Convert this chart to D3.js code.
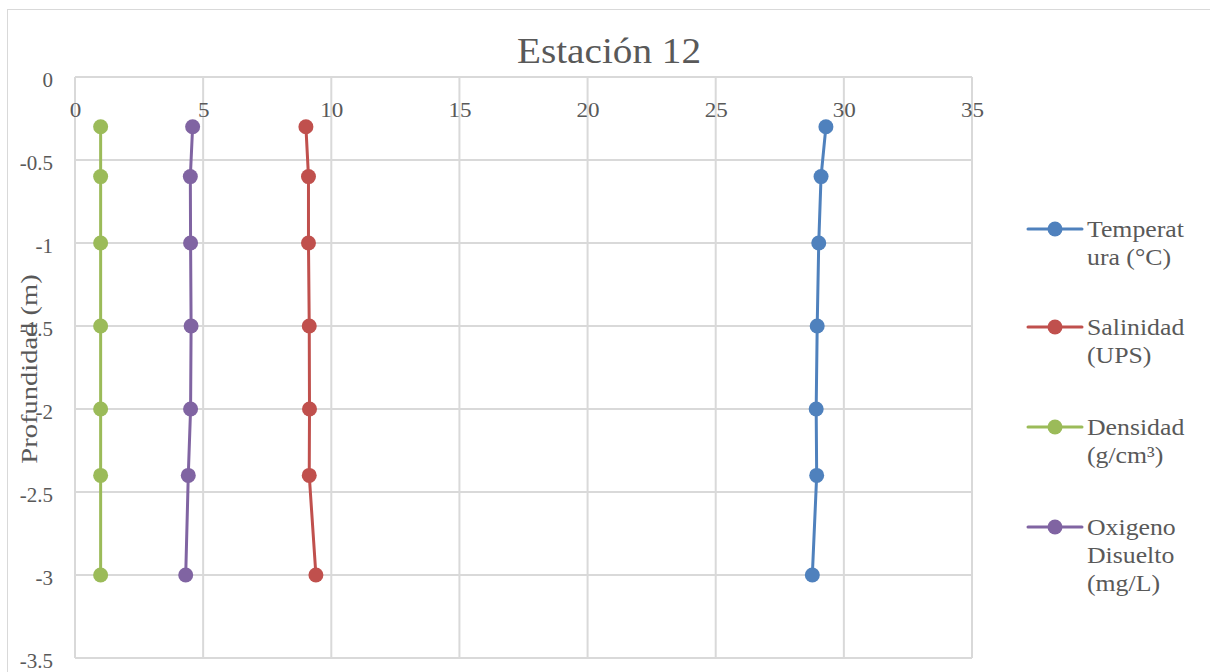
<!DOCTYPE html>
<html>
<head>
<meta charset="utf-8">
<script src="https://cdn.jsdelivr.net/npm/d3@7"></script>
<style>
  html, body { margin: 0; padding: 0; background: #fff; }
  svg { display: block; font-family: "Liberation Serif", "DejaVu Serif", serif; }
</style>
</head>
<body>
<svg id="chart" width="1210" height="672"></svg>
<script>
// Depth profile, Estación 12
const depths = [-0.3, -0.6, -1, -1.5, -2, -2.4, -3];
const temperatura = [29.30, 29.11, 29.02, 28.96, 28.92, 28.94, 28.77];
const salinidad   = [9.01, 9.11, 9.11, 9.14, 9.15, 9.14, 9.40];
const densidad    = [1.0, 1.0, 1.0, 1.0, 1.0, 1.0, 1.0];
const oxigeno     = [4.59, 4.50, 4.51, 4.53, 4.51, 4.42, 4.32];

const seriesNames = [["Temperat", "ura (°C)"], ["Salinidad", "(UPS)"], ["Densidad", "(g/cm³)"], ["Oxigeno", "Disuelto", "(mg/L)"]];
const seriesColors = ["#4F81BD", "#C0504D", "#9BBB59", "#8064A2"];
const seriesValues = [temperatura, salinidad, densidad, oxigeno];

const xTicks = [0, 5, 10, 15, 20, 25, 30, 35];
const yTicks = [0, -0.5, -1, -1.5, -2, -2.5, -3, -3.5];

const svg = d3.select("#chart");
const textColor = "#595959";
const gridColor = "#d9d9d9";

// Widen a text element horizontally by a factor (wider serif face)
function widen(sel, factor) {
  sel.each(function () {
    const w = this.getComputedTextLength();
    d3.select(this).attr("textLength", w * factor).attr("lengthAdjust", "spacingAndGlyphs");
  });
}

// Outer chart frame
svg.append("rect").attr("x", 7.5).attr("y", 9.5).attr("width", 1220).attr("height", 700)
  .attr("fill", "#fff").attr("stroke", gridColor).attr("stroke-width", 1);

const x = d3.scaleLinear().domain([0, 35]).range([75, 972]);
const y = d3.scaleLinear().domain([0, -3.5]).range([77, 658]);

// Gridlines
const grid = svg.append("g");
grid.selectAll("line.v").data(xTicks).join("line")
  .attr("x1", d => x(d)).attr("x2", d => x(d)).attr("y1", y(0)).attr("y2", y(-3.5))
  .attr("stroke", gridColor).attr("stroke-width", 2);
grid.selectAll("line.h").data(yTicks).join("line")
  .attr("x1", x(0)).attr("x2", x(35)).attr("y1", d => y(d)).attr("y2", d => y(d))
  .attr("stroke", gridColor).attr("stroke-width", 2);

// Axes (labels only)
const xAxis = svg.append("g").attr("transform", `translate(0,${y(0)})`)
  .call(d3.axisBottom(x).tickValues(xTicks).tickSize(0).tickPadding(25).tickFormat(d3.format("d")));
xAxis.select(".domain").remove();
xAxis.selectAll("text").attr("font-size", 21).attr("fill", textColor)
  .attr("font-family", "Liberation Serif, DejaVu Serif, serif");
widen(xAxis.selectAll("text"), 1.1);

const yAxis = svg.append("g").attr("transform", `translate(${x(0)},0)`)
  .call(d3.axisLeft(y).tickValues(yTicks).tickSize(0).tickPadding(22).tickFormat(d => d === 0 ? "0" : String(d)));
yAxis.select(".domain").remove();
yAxis.selectAll("text").attr("font-size", 21).attr("fill", textColor).attr("dy", "0.47em")
  .attr("font-family", "Liberation Serif, DejaVu Serif, serif");

// Title
const title = svg.append("text").attr("x", 609).attr("y", 63).attr("text-anchor", "middle")
  .attr("font-size", 36).attr("fill", textColor).text("Estación 12");
widen(title, 1.09);

// Y axis title
const yTitle = svg.append("text").attr("transform", "translate(37,369) rotate(-90)")
  .attr("text-anchor", "middle").attr("font-size", 23).attr("fill", textColor)
  .text("Profundidad (m)");
widen(yTitle, 1.24);

// Series lines and markers
const line = d3.line().x(d => x(d[0])).y(d => y(d[1]));
seriesValues.forEach((vals, i) => {
  const pts = vals.map((v, j) => [v, depths[j]]);
  svg.append("path").datum(pts).attr("d", line)
    .attr("fill", "none").attr("stroke", seriesColors[i]).attr("stroke-width", 3)
    .attr("stroke-linejoin", "round");
  svg.append("g").selectAll("circle").data(pts).join("circle")
    .attr("cx", d => x(d[0])).attr("cy", d => y(d[1])).attr("r", 7.5)
    .attr("fill", seriesColors[i]);
});

// Legend
const legendY = [229, 327, 427, 527];
seriesNames.forEach((lines, i) => {
  const g = svg.append("g").attr("transform", `translate(0,${legendY[i]})`);
  g.append("line").attr("x1", 1028).attr("x2", 1082).attr("y1", 0).attr("y2", 0)
    .attr("stroke", seriesColors[i]).attr("stroke-width", 3).attr("stroke-linecap", "round");
  g.append("circle").attr("cx", 1055).attr("cy", 0).attr("r", 7.5).attr("fill", seriesColors[i]);
  lines.forEach((s, k) => {
    const t = g.append("text").attr("x", 1087).attr("y", 8 + k * 28)
      .attr("font-size", 23).attr("fill", textColor).text(s);
    widen(t, 1.12);
  });
});
</script>
</body>
</html>
